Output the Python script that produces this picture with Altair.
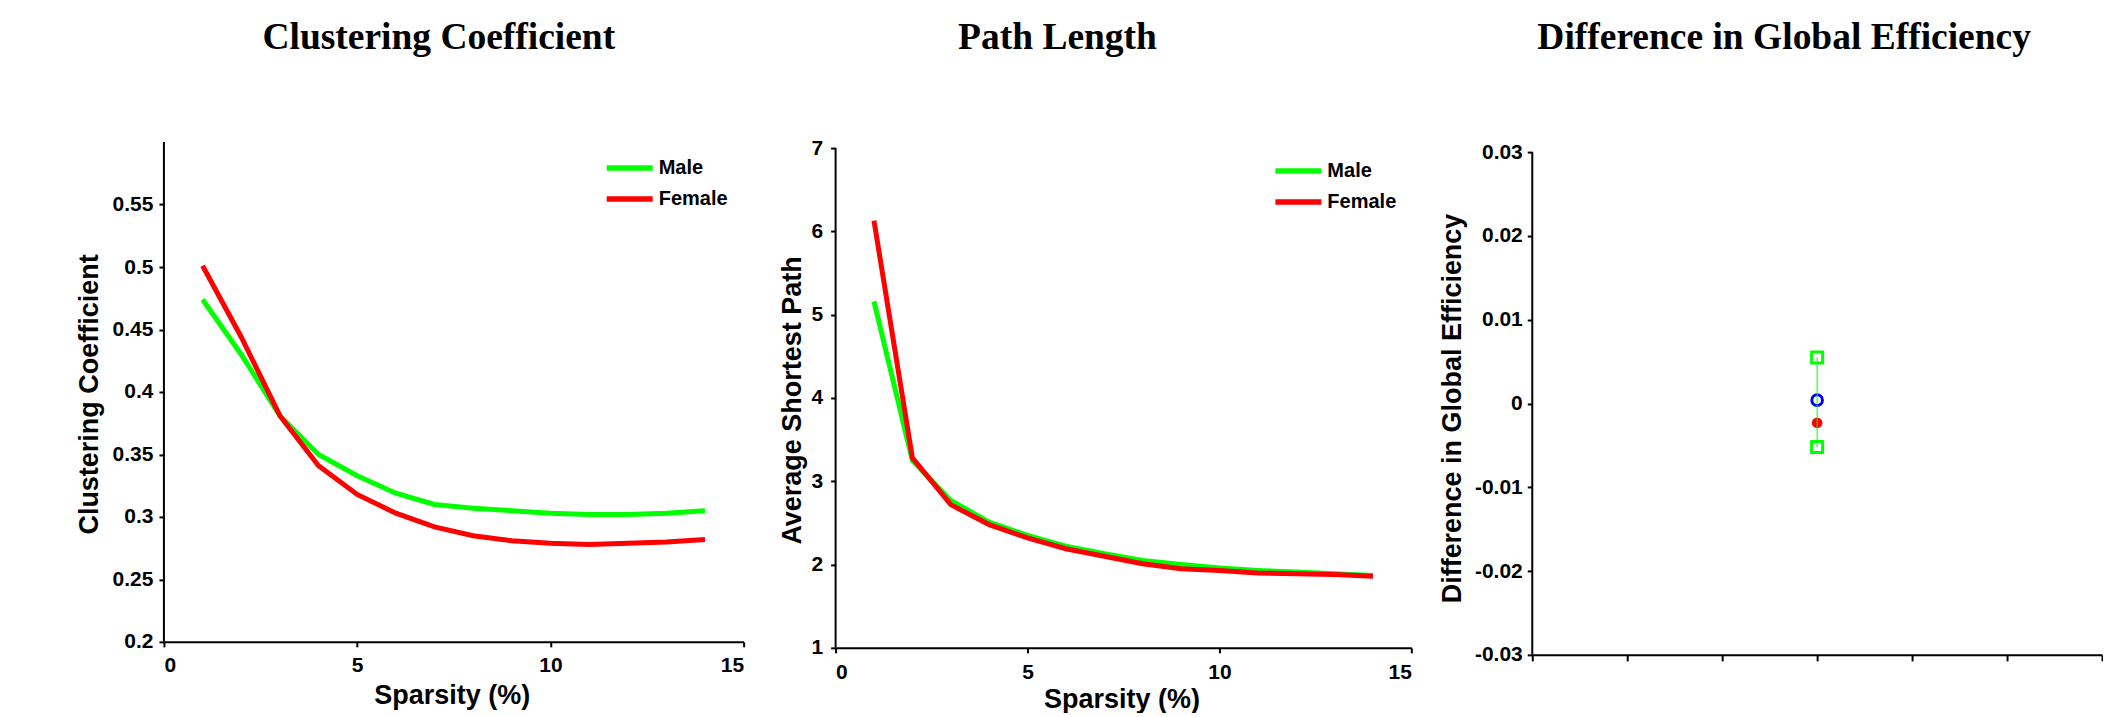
import altair as alt
import pandas as pd

# ---------------- data ----------------
sparsity = list(range(1, 15))
groups = ["Male", "Female"]
group_colors = ["#00ff00", "#ff0000"]

cc_male = [0.474, 0.430, 0.381, 0.350, 0.333, 0.319, 0.310, 0.307, 0.305, 0.303, 0.302, 0.302, 0.303, 0.305]
cc_female = [0.501, 0.444, 0.381, 0.341, 0.318, 0.303, 0.292, 0.285, 0.281, 0.279, 0.278, 0.279, 0.280, 0.282]

pl_male = [5.16, 3.25, 2.77, 2.51, 2.35, 2.22, 2.13, 2.05, 2.00, 1.96, 1.93, 1.91, 1.89, 1.87]
pl_female = [6.13, 3.28, 2.72, 2.48, 2.32, 2.19, 2.10, 2.01, 1.95, 1.93, 1.90, 1.89, 1.88, 1.86]

cc_ticks = [0.2, 0.25, 0.3, 0.35, 0.4, 0.45, 0.5, 0.55]
pl_ticks = [1, 2, 3, 4, 5, 6, 7]
sparsity_ticks = [0, 5, 10, 15]
ge_ticks = [-0.03, -0.02, -0.01, 0, 0.01, 0.02, 0.03]
ge_xticks = [0, 1, 2, 3, 4, 5, 6]

ge_position = [3]
ge_ci_low = [-0.0052]
ge_ci_high = [0.0055]
ge_observed = [0.0004]
ge_null_mean = [-0.0023]

SANS = "Liberation Sans"
SERIF = "Liberation Serif"
MINUS = "\u2212"


def title(text, dx, offset):
    return alt.TitleParams(text=text, font=SERIF, fontSize=37.5, fontWeight="bold", color="black",
                           anchor="middle", frame="group", dx=dx, offset=offset, baseline="alphabetic")


def spine(xval, ylo, yhi, xf, yf):
    d = pd.DataFrame({xf: [xval], yf: [ylo], yf + "2": [yhi]})
    return alt.Chart(d).mark_rule(color="black", strokeWidth=2).encode(
        x=alt.X(xf + ":Q"), y=alt.Y(yf + ":Q"), y2=alt.Y2(yf + "2:Q"))


def line_panel(male, female, ytitle, ydomain, yticks, ttl, w, h, ytx, yty, xtx, xty,
               lx, ly, tdx, toff, ylabpad, xlabpad):
    df = pd.DataFrame({
        "Sparsity": sparsity + sparsity,
        "Value": male + female,
        "Group": ["Male"] * len(male) + ["Female"] * len(female),
    })
    color = alt.Color(
        "Group:N",
        scale=alt.Scale(domain=groups, range=group_colors),
        legend=alt.Legend(title=None, orient="none", legendX=lx, legendY=ly, padding=0,
                          symbolType="stroke", symbolSize=2116, symbolStrokeWidth=5.5,
                          labelFont=SANS, labelFontSize=20, labelFontWeight="bold",
                          labelColor="black", labelOffset=3, rowPadding=9, clipHeight=22),
    )
    x = alt.X("Sparsity:Q", scale=alt.Scale(domain=[0, 15], nice=False, zero=False),
              axis=alt.Axis(values=sparsity_ticks, title="Sparsity (%)", titleX=xtx, titleY=xty,
                            titleBaseline="middle", titleAlign="center", labelPadding=xlabpad))
    y = alt.Y("Value:Q", scale=alt.Scale(domain=ydomain[:2], nice=False, zero=False),
              axis=alt.Axis(values=yticks, format="~g", title=ytitle, titleX=ytx, titleY=yty,
                            titleBaseline="middle", titleAlign="center", titleAngle=270,
                            labelPadding=ylabpad, domain=False))
    base = alt.Chart(df).encode(x=x, y=y, color=color)
    m = base.transform_filter(alt.datum.Group == "Male").mark_line(strokeWidth=5)
    f = base.transform_filter(alt.datum.Group == "Female").mark_line(strokeWidth=5)
    ax = spine(0, yticks[0], ydomain[2], "Sparsity", "Value")
    return alt.layer(ax, m, f).properties(width=w, height=h, title=title(ttl, tdx, toff))


# panel 1: y-axis line spans the full 0.2-0.6 range
p1 = line_panel(cc_male, cc_female, "Clustering Coefficient", [0.2, 0.6, 0.6], cc_ticks,
                "Clustering Coefficient", 580, 500, -74, 252, 288, 54, 440, 15, -15, 55, 6, 8)
# panel 2: its axis frame sits 6 px lower than panel 1's; the scale is stretched to keep the same top
p2 = line_panel(pl_male, pl_female, "Average Shortest Path", [1, 7.072, 7], pl_ticks,
                "Path Length", 576, 506, -43, 258, 286, 52, 437, 18, -66, 51, 8, 9)

# ---------------- panel 3 ----------------
ge_df = pd.DataFrame({
    "pos": ge_position,
    "low": ge_ci_low,
    "high": ge_ci_high,
    "observed": ge_observed,
    "null_mean": ge_null_mean,
})
gx = alt.X("pos:Q", scale=alt.Scale(domain=[0, 6], nice=False, zero=False),
           axis=alt.Axis(values=ge_xticks, labels=False, title=None, tickSize=6))
gy_axis = alt.Axis(values=ge_ticks, format="~g", title="Difference in Global Efficiency",
                   titleX=-80, titleY=266, titleBaseline="middle", titleAlign="center", titleAngle=270,
                   labelPadding=5, domain=False,
                   labelExpr="replace(datum.label, '" + MINUS + "', '-')")
gscale = alt.Scale(domain=[-0.03, 0.031193], nice=False, zero=False)

g_base = alt.Chart(ge_df)
g_axis = spine(0, ge_ticks[0], ge_ticks[-1], "pos", "low").encode(
    x=gx, y=alt.Y("low:Q", scale=gscale, axis=gy_axis))
sq_low = g_base.mark_point(shape="square", size=121, strokeWidth=3, color="#00ff00", filled=False, opacity=1).encode(
    x=gx, y=alt.Y("low:Q", scale=gscale))
sq_high = g_base.mark_point(shape="square", size=121, strokeWidth=3, color="#00ff00", filled=False, opacity=1).encode(
    x=gx, y=alt.Y("high:Q", scale=gscale))
obs = g_base.mark_point(shape="circle", size=113, strokeWidth=3, color="#0000ff", filled=False, opacity=1).encode(
    x=gx, y=alt.Y("observed:Q", scale=gscale))
nul = g_base.mark_point(shape="circle", size=113, color="#ff0000", filled=True, opacity=1).encode(
    x=gx, y=alt.Y("null_mean:Q", scale=gscale))
bar = g_base.mark_rule(color="#00ff00", strokeWidth=1).encode(
    x=gx, y=alt.Y("low:Q", scale=gscale), y2="high:Q")
p3 = alt.layer(g_axis, sq_low, sq_high, obs, nul, bar).properties(
    width=570, height=513, title=title("Difference in Global Efficiency", -33, 55))


def spacer(w):
    return alt.Chart(pd.DataFrame({"s": [0]})).mark_point(opacity=0).properties(width=w, height=1)


chart = alt.hconcat(p1, spacer(72), p2, spacer(101), p3, spacing=10, bounds="flush").resolve_scale(
    color="independent").resolve_legend(color="independent")

chart = chart.properties(
    padding={"left": 68, "top": 10, "right": 0, "bottom": 0},
    background="white",
).configure_view(stroke=None).configure_axis(
    grid=False,
    labelFont=SANS, labelFontSize=21, labelFontWeight="bold", labelColor="black",
    titleFont=SANS, titleFontSize=27, titleFontWeight="bold", titleColor="black",
    domainColor="black", domainWidth=2, tickColor="black", tickWidth=2, tickSize=5,
)

chart.save("out.html", embed_options={"renderer": "svg", "actions": False})
